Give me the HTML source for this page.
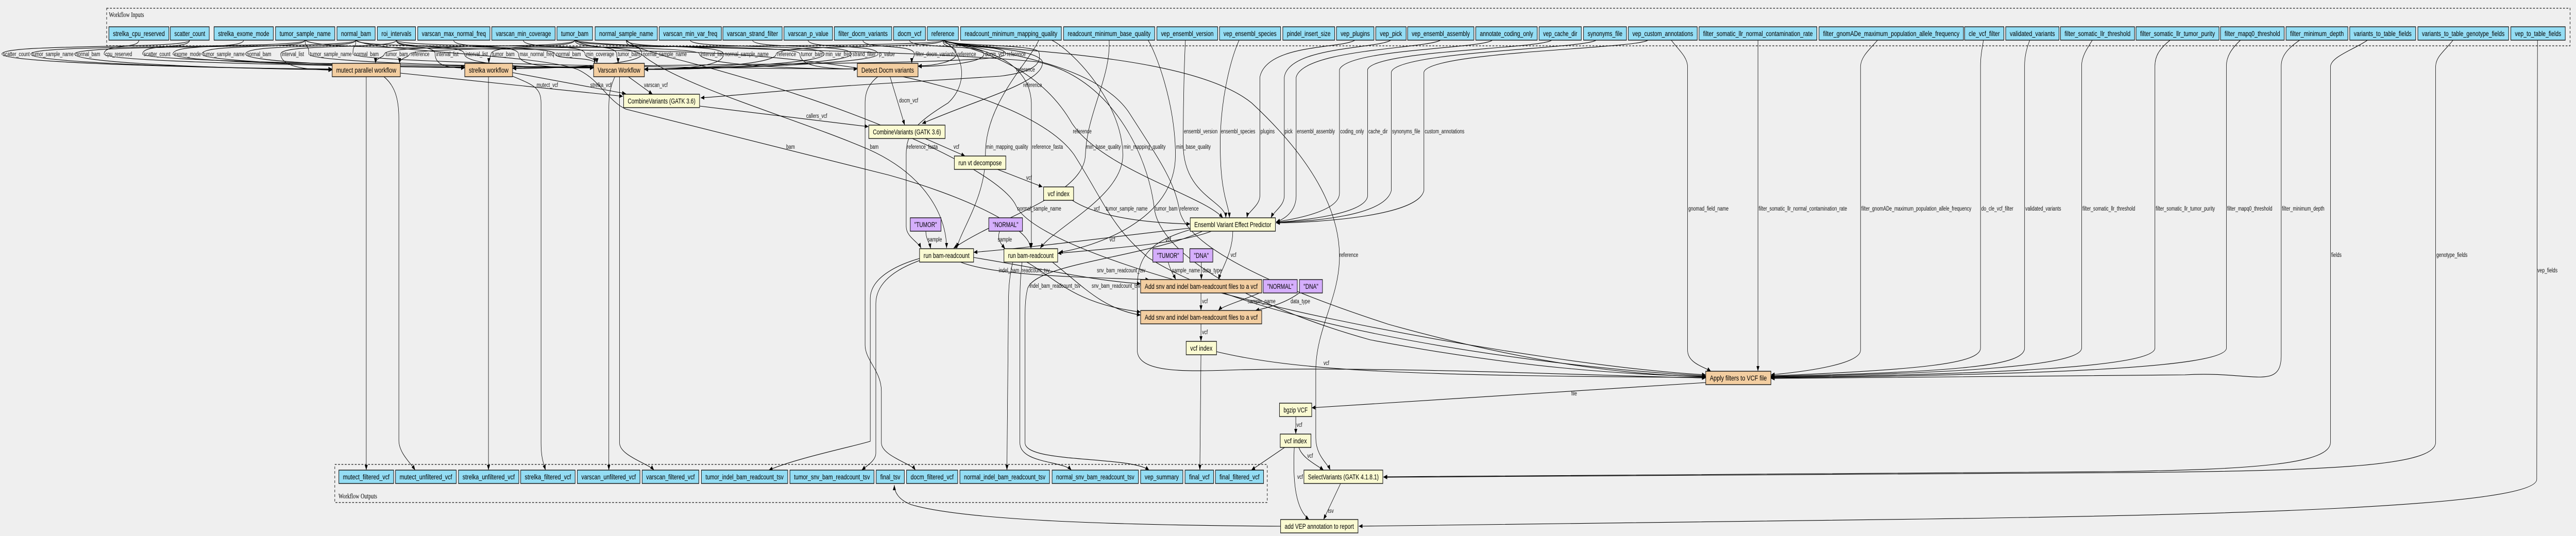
<!DOCTYPE html>
<html>
<head>
<meta charset="utf-8">
<style>
html,body{margin:0;padding:0;background:#efefef;width:100%;height:100%;overflow:hidden;}
svg{display:block;width:100vw;height:100vh;overflow:hidden;}
svg text{font-family:"Liberation Sans",Arial,sans-serif;fill:#000;}
.n text{font-size:14px;text-anchor:middle;}
.l text{font-size:12px;fill:#111;}
.bx text{font-family:"Liberation Serif","Times New Roman",serif;font-size:14px;}
rect.i{fill:#94DDF4;} rect.s{fill:#F3CEA1;} rect.y{fill:#FAFAD2;} rect.p{fill:#D5AEFC;}
.n rect{stroke:#111;stroke-width:1.4;}
.e path{fill:none;stroke:#000;stroke-width:1.1;marker-end:url(#a);}
.bx rect{fill:none;stroke:#333;stroke-width:1.5;stroke-dasharray:5,4;}
</style>
</head>
<body>
<svg viewBox="0 0 6956 1041" preserveAspectRatio="none" xmlns="http://www.w3.org/2000/svg">
<defs>
<marker id="a" viewBox="0 0 10 8" refX="10" refY="4" markerWidth="10" markerHeight="8" markerUnits="userSpaceOnUse" orient="auto"><path d="M0,0L10,4L0,8z" fill="#000"/></marker>
</defs>
<rect x="0" y="0" width="6956" height="1041" fill="#efefef"/>

<!-- cluster boxes -->
<g class="bx">
<rect x="288" y="16" width="6652" height="73"/>
<text x="294" y="33">Workflow Inputs</text>
<rect x="904" y="902" width="2518" height="74"/>
<text x="914" y="968">Workflow Outputs</text>
</g>

<!-- edges -->
<g class="e">
<path d="M512,78 C512,96 5,84 5,105 C5,124 697,134 897,134"/>
<path d="M824,78 C824,96 83,84 83,105 C83,124 697,134 897,134"/>
<path d="M961,78 C961,96 201,84 201,105 C201,124 697,135 897,135"/>
<path d="M375,78 C375,96 281,84 281,105 C281,122 1055,130 1255,130"/>
<path d="M512,78 C512,96 385,84 385,105 C385,122 1403,130 1603,130"/>
<path d="M658,78 C658,96 467,84 467,105 C467,122 1055,130 1255,130"/>
<path d="M824,78 C824,96 545,84 545,105 C545,122 1055,131 1255,131"/>
<path d="M961,78 C961,96 663,84 663,105 C663,122 1055,131 1255,131"/>
<path d="M1070,78 C1070,96 758,84 758,105 C758,124 800,136 897,136"/>
<path d="M824,78 C824,96 834,84 834,105 C834,122 1403,131 1603,131"/>
<path d="M961,78 C961,96 953,84 953,105 C953,124 2115,134 2315,134"/>
<path d="M1552,78 C1552,96 1038,84 1038,105 C1036,112 1014,112 1014,123"/>
<path d="M2546,78 C2546,96 1106,84 1106,105 C1104,112 1079,112 1079,123"/>
<path d="M1070,78 C1070,96 1175,84 1175,105 C1175,124 1200,132 1255,132"/>
<path d="M1070,78 C1070,96 1254,84 1254,105 C1254,124 1403,132 1603,132"/>
<path d="M1552,78 C1552,96 1326,84 1326,105 C1325,112 1320,112 1320,123"/>
<path d="M1225,78 C1225,96 1400,84 1400,105 C1400,124 1450,132 1603,132"/>
<path d="M961,78 C961,96 1499,84 1499,105 C1499,116 1606,110 1606,123"/>
<path d="M1413,78 C1413,96 1580,84 1580,105 C1580,114 1612,112 1612,123"/>
<path d="M1552,78 C1552,96 1665,84 1665,105 C1665,112 1669,112 1669,123"/>
<path d="M1691,78 C1691,96 1733,84 1733,105 C1733,124 1534,133 1384,133"/>
<path d="M1070,78 C1070,96 1889,84 1889,105 C1889,124 2115,134 2315,134"/>
<path d="M1691,78 C1691,96 1954,84 1954,105 C1954,124 1890,134 1740,134"/>
<path d="M2546,78 C2546,96 2096,84 2096,105 C2096,124 1890,134 1740,134"/>
<path d="M1552,78 C1552,96 2160,84 2160,105 C2160,124 2200,134 2315,134"/>
<path d="M1864,78 C1864,96 2226,84 2226,105 C2226,124 1890,134 1740,134"/>
<path d="M2032,78 C2032,96 2299,84 2299,105 C2299,124 1890,135 1740,135"/>
<path d="M2182,78 C2182,96 2371,84 2371,105 C2371,124 1890,135 1740,135"/>
<path d="M2330,78 C2330,96 2469,84 2469,105 C2469,112 2462,112 2462,123"/>
<path d="M2546,78 C2546,96 2582,84 2582,105 C2582,120 2520,128 2479,128"/>
<path d="M2456,78 C2456,96 2657,84 2657,105 C2657,122 2540,129 2479,129"/>
<path d="M2546,78 C2546,96 2716,84 2716,105 C2716,126 2000,122 1384,132"/>

<path d="M989,148 L989,913"/>
<path d="M1035,148 C1065,165 1077,190 1077,230 L1077,855 C1077,880 1110,900 1121,913"/>
<path d="M1081,142 C1300,160 1500,175 1682,187"/>
<path d="M1319,148 L1319,913"/>
<path d="M1384,148 C1440,165 1461,170 1461,200 L1461,860 C1461,890 1468,900 1473,913"/>
<path d="M1384,141 L1690,182"/>
<path d="M1661,148 C1650,165 1644,180 1644,210 L1644,913"/>
<path d="M1673,148 L1673,860 C1673,885 1750,900 1766,913"/>
<path d="M1695,148 L1762,183"/>
<path d="M2546,78 C2560,90 2780,85 2805,100 C2815,125 2790,140 2700,148 L2300,166 C2100,176 1950,188 1892,190"/>
<path d="M2546,78 C2570,92 2800,90 2815,120 C2820,160 2650,190 2490,240"/>
<path d="M1889,206 L2345,246"/>
<path d="M2403,148 L2443,243"/>
<path d="M2372,148 C2350,160 2336,175 2336,200 L2336,670 C2336,700 2380,720 2380,760 L2380,860 C2380,885 2460,900 2472,913"/>
<path d="M2495,268 L2606,303"/>
<path d="M2690,328 L2815,363"/>
<path d="M2893,388 C2950,415 3050,432 3214,435"/>
<path d="M3214,443 C3000,460 2800,480 2629,490"/>
<path d="M3275,448 C3200,470 3050,480 2856,492"/>
<path d="M3329,448 C3329,490 3300,520 3290,543"/>
<path d="M2500,448 C2500,465 2510,470 2513,483"/>
<path d="M2700,448 C2690,465 2705,475 2714,483"/>
<path d="M2629,500 C2800,520 2950,545 3080,551"/>
<path d="M2590,508 C2680,535 2900,538 3103,543"/>
<path d="M2770,508 C2850,540 2900,590 3080,606"/>
<path d="M2840,508 C2930,560 2980,600 3080,612"/>
<path d="M3154,508 C3160,525 3170,535 3175,543"/>
<path d="M3244,508 L3244,543"/>
<path d="M3404,568 C3350,585 3300,595 3290,603"/>
<path d="M3510,568 C3470,590 3420,598 3390,603"/>
<path d="M3243,568 L3243,603"/>
<path d="M3243,629 L3243,663"/>
<path d="M3243,689 L3240,913"/>
<path d="M3285,683 C3500,720 3800,730 4606,733"/>
<path d="M4606,743 L3542,792"/>
<path d="M3499,808 L3499,843"/>
<path d="M3471,868 L3379,913"/>
<path d="M3507,868 C3515,890 3560,905 3574,913"/>
<path d="M3495,868 C3490,940 3500,990 3535,1009"/>
<path d="M2546,78 C2620,100 3200,95 3380,200 C3560,320 3618,420 3617,500 C3616,580 3553,640 3553,720 L3553,850 C3553,885 3585,900 3592,913"/>
<path d="M3620,939 L3574,1009"/>
<path d="M3458,1022 C3000,1020 2600,1010 2460,980 C2425,970 2415,955 2415,942"/>
<path d="M6393,78 C6360,95 6293,110 6293,130 L6293,859 C6293,900 6100,912 5700,916 L3736,926"/>
<path d="M6624,78 C6600,100 6577,110 6577,130 L6577,859 C6577,905 6300,915 5700,918 L3736,927"/>
<path d="M6852,78 L6850,931 C6850,985 6000,1000 5200,1008 L3669,1022"/>

<path d="M961,78 C1000,100 1450,105 1560,135 C1620,155 1640,195 1690,212 L2400,340 C2600,380 2780,440 2783,482"/>
<path d="M1552,78 C1600,100 1700,85 1740,110 C1850,170 2150,230 2345,290 C2500,340 2556,420 2556,482"/>
<path d="M2546,78 C2600,100 2620,160 2560,200 C2470,240 2447,260 2447,300 L2447,440 C2447,460 2480,470 2487,482"/>
<path d="M2805,78 C2780,120 2660,200 2661,300 C2662,380 2600,440 2583,482"/>
<path d="M2995,78 C3000,150 2935,220 2931,300 C2928,380 2700,420 2575,482"/>
<path d="M2546,78 C2600,92 2780,100 2785,200 L2785,482"/>
<path d="M2840,78 C2900,100 3030,200 3032,300 C3034,380 2850,440 2809,482"/>
<path d="M3100,78 C3120,100 3174,200 3174,300 C3176,430 2950,480 2860,490"/>

<path d="M2546,78 C2620,95 2800,120 2895,240 C2980,330 3250,380 3302,423"/>
<path d="M3201,78 C3198,120 3195,200 3195,280 C3195,380 3310,390 3310,423"/>
<path d="M3346,78 C3320,120 3295,200 3295,280 C3295,380 3318,395 3320,423"/>
<path d="M3659,78 C3620,95 3420,85 3402,150 L3402,380 C3402,400 3370,410 3367,423"/>
<path d="M3756,78 C3720,95 3480,90 3468,150 L3468,380 C3468,400 3440,410 3432,423"/>
<path d="M3890,78 C3850,95 3520,95 3500,150 L3500,380 C3500,410 3470,425 3446,431"/>
<path d="M4030,78 C4000,95 3640,95 3617,135 L3617,375 C3617,410 3500,425 3446,431"/>
<path d="M4190,78 C4160,95 3710,98 3693,135 L3693,380 C3690,415 3520,428 3446,432"/>
<path d="M4310,78 C4280,95 3770,100 3757,140 L3757,370 C3740,420 3540,430 3446,432"/>
<path d="M4450,78 C4420,95 3860,100 3845,140 L3845,370 C3830,420 3560,432 3446,433"/>

<path d="M4513,78 C4530,95 4557,110 4557,130 L4557,680 C4557,705 4600,712 4620,721"/>
<path d="M4747,78 L4747,721"/>
<path d="M5070,78 C5050,95 5024,110 5024,130 L5024,680 C5024,705 4900,720 4782,728"/>
<path d="M5356,78 C5352,95 5348,110 5348,128 L5348,676 C5348,705 5200,718 4782,730"/>
<path d="M5481,78 C5472,95 5467,110 5467,128 L5467,676 C5467,710 5300,722 4782,731"/>
<path d="M5650,78 C5635,95 5621,110 5621,128 L5621,676 C5621,710 5300,725 4782,732"/>
<path d="M5860,78 C5830,95 5819,110 5819,128 L5819,676 C5819,712 5400,727 4782,733"/>
<path d="M6050,78 C6025,95 6012,110 6012,128 L6012,676 C6012,715 5500,728 4782,734"/>
<path d="M6210,78 C6175,95 6160,110 6160,128 L6160,690 C6160,760 6080,720 5900,728 L4782,735"/>
<path d="M1691,78 C1720,96 1760,100 1800,110 C2300,200 2700,330 2744,400 C2790,470 3200,560 3600,620 C4000,680 4400,720 4606,728"/>
<path d="M824,78 C850,96 1200,92 1800,100 C2400,110 2800,200 2900,300 C2980,390 3000,440 3100,500 C3400,640 4200,715 4606,730"/>
<path d="M1552,78 C1600,95 2400,92 2800,120 C3000,150 3100,300 3117,405 C3135,500 3400,600 3700,660 C4100,715 4400,728 4606,731"/>
<path d="M2546,78 C2600,95 2950,110 3050,220 C3130,310 3170,350 3184,405 C3200,480 3450,560 3750,630 C4150,710 4400,727 4606,732"/>
<path d="M3214,446 C3100,470 3071,500 3071,560 L3071,680 C3071,725 3200,722 3350,718 C3800,712 4300,730 4606,734"/>

<path d="M3250,448 C3100,500 2800,510 2775,560 C2768,580 2768,600 2768,620 L2768,860 C2768,900 3050,885 3103,913"/>
<path d="M2735,508 C2725,540 2723,560 2723,600 L2719,913"/>
<path d="M2760,508 C2755,540 2754,560 2754,600 L2754,860 C2754,900 2870,895 2893,913"/>
<path d="M2483,502 C2420,515 2350,540 2350,580 L2350,857 C2300,868 2150,890 2076,913"/>
<path d="M2483,506 C2430,520 2365,545 2365,590 L2365,880 C2365,895 2340,905 2327,913"/>
</g>

<!-- edge labels -->
<g class="l">
<text x="8" y="109">scatter_count</text>
<text x="86" y="109">tumor_sample_name</text>
<text x="204" y="109">normal_bam</text>
<text x="284" y="109">cpu_reserved</text>
<text x="388" y="109">scatter_count</text>
<text x="470" y="109">exome_mode</text>
<text x="548" y="109">tumor_sample_name</text>
<text x="666" y="109">normal_bam</text>
<text x="761" y="109">interval_list</text>
<text x="837" y="109">tumor_sample_name</text>
<text x="956" y="109">normal_bam</text>
<text x="1041" y="109">tumor_bam</text>
<text x="1109" y="109">reference</text>
<text x="1178" y="109">interval_list</text>
<text x="1257" y="109">interval_list</text>
<text x="1329" y="109">tumor_bam</text>
<text x="1403" y="109">max_normal_freq</text>
<text x="1502" y="109">normal_bam</text>
<text x="1583" y="109">min_coverage</text>
<text x="1668" y="109">tumor_bam</text>
<text x="1736" y="109">normal_sample_name</text>
<text x="1892" y="109">interval_list</text>
<text x="1957" y="109">normal_sample_name</text>
<text x="2099" y="109">reference</text>
<text x="2163" y="109">tumor_bam</text>
<text x="2229" y="109">min_var_freq</text>
<text x="2302" y="109">strand_filter</text>
<text x="2374" y="109">p_value</text>
<text x="2472" y="109">filter_docm_variants</text>
<text x="2585" y="109">reference</text>
<text x="2660" y="109">docm_vcf</text>
<text x="2719" y="109">reference</text>

<text x="2744" y="139">reference</text>
<text x="1449" y="169">mutect_vcf</text>
<text x="1594" y="169">strelka_vcf</text>
<text x="1739" y="169">varscan_vcf</text>
<text x="2763" y="169">reference</text>
<text x="2428" y="199">docm_vcf</text>
<text x="2177" y="229">callers_vcf</text>

<text x="2897" y="259">reference</text>
<text x="3197" y="259">ensembl_version</text>
<text x="3297" y="259">ensembl_species</text>
<text x="3404" y="259">plugins</text>
<text x="3469" y="259">pick</text>
<text x="3502" y="259">ensembl_assembly</text>
<text x="3619" y="259">coding_only</text>
<text x="3695" y="259">cache_dir</text>
<text x="3759" y="259">synonyms_file</text>
<text x="3847" y="259">custom_annotations</text>

<text x="2123" y="289">bam</text>
<text x="2349" y="289">bam</text>
<text x="2449" y="289">reference_fasta</text>
<text x="2575" y="289">vcf</text>
<text x="2663" y="289">min_mapping_quality</text>
<text x="2787" y="289">reference_fasta</text>
<text x="2933" y="289">min_base_quality</text>
<text x="3034" y="289">min_mapping_quality</text>
<text x="3176" y="289">min_base_quality</text>

<text x="2771" y="349">vcf</text>

<text x="2747" y="409">normal_sample_name</text>
<text x="2954" y="409">vcf</text>
<text x="2986" y="409">tumor_sample_name</text>
<text x="3119" y="409">tumor_bam</text>
<text x="3186" y="409">reference</text>
<text x="4559" y="409">gnomad_field_name</text>
<text x="4749" y="409">filter_somatic_llr_normal_contamination_rate</text>
<text x="5026" y="409">filter_gnomADe_maximum_population_allele_frequency</text>
<text x="5350" y="409">do_cle_vcf_filter</text>
<text x="5469" y="409">validated_variants</text>
<text x="5623" y="409">filter_somatic_llr_threshold</text>
<text x="5821" y="409">filter_somatic_llr_tumor_purity</text>
<text x="6014" y="409">filter_mapq0_threshold</text>
<text x="6162" y="409">filter_minimum_depth</text>

<text x="2505" y="469">sample</text>
<text x="2694" y="469">sample</text>
<text x="2996" y="469">vcf</text>
<text x="3147" y="469">vcf</text>

<text x="3617" y="499">reference</text>
<text x="3323" y="499">vcf</text>
<text x="6295" y="499">fields</text>
<text x="6579" y="499">genotype_fields</text>
<text x="6852" y="529">vep_fields</text>

<text x="2697" y="529">indel_bam_readcount_tsv</text>
<text x="2962" y="529">snv_bam_readcount_tsv</text>
<text x="3165" y="529">sample_name</text>
<text x="3247" y="529">data_type</text>
<text x="2780" y="559">indel_bam_readcount_tsv</text>
<text x="2948" y="559">snv_bam_readcount_tsv</text>
<text x="3246" y="589">vcf</text>
<text x="3369" y="589">sample_name</text>
<text x="3485" y="589">data_type</text>
<text x="3246" y="649">vcf</text>
<text x="3574" y="709">vcf</text>
<text x="4243" y="768">file</text>
<text x="3501" y="829">vcf</text>
<text x="3530" y="889">vcf</text>
<text x="3503" y="930">vcf</text>
<text x="3586" y="996">tsv</text>
</g>

<!-- nodes -->
<g class="n">
<rect class="i" x="294" y="52" width="162" height="26"/><text x="375" y="70" textLength="140" lengthAdjust="spacingAndGlyphs">strelka_cpu_reserved</text>
<rect class="i" x="460" y="52" width="105" height="26"/><text x="512.5" y="70" textLength="83" lengthAdjust="spacingAndGlyphs">scatter_count</text>
<rect class="i" x="578" y="52" width="160" height="26"/><text x="658" y="70" textLength="138" lengthAdjust="spacingAndGlyphs">strelka_exome_mode</text>
<rect class="i" x="744" y="52" width="160" height="26"/><text x="824" y="70" textLength="138" lengthAdjust="spacingAndGlyphs">tumor_sample_name</text>
<rect class="i" x="910" y="52" width="103" height="26"/><text x="961.5" y="70" textLength="81" lengthAdjust="spacingAndGlyphs">normal_bam</text>
<rect class="i" x="1019" y="52" width="103" height="26"/><text x="1070.5" y="70" textLength="81" lengthAdjust="spacingAndGlyphs">roi_intervals</text>
<rect class="i" x="1128" y="52" width="195" height="26"/><text x="1225.5" y="70" textLength="173" lengthAdjust="spacingAndGlyphs">varscan_max_normal_freq</text>
<rect class="i" x="1328" y="52" width="171" height="26"/><text x="1413.5" y="70" textLength="149" lengthAdjust="spacingAndGlyphs">varscan_min_coverage</text>
<rect class="i" x="1504" y="52" width="96" height="26"/><text x="1552" y="70" textLength="74" lengthAdjust="spacingAndGlyphs">tumor_bam</text>
<rect class="i" x="1607" y="52" width="168" height="26"/><text x="1691" y="70" textLength="146" lengthAdjust="spacingAndGlyphs">normal_sample_name</text>
<rect class="i" x="1780" y="52" width="168" height="26"/><text x="1864" y="70" textLength="146" lengthAdjust="spacingAndGlyphs">varscan_min_var_freq</text>
<rect class="i" x="1952" y="52" width="160" height="26"/><text x="2032" y="70" textLength="138" lengthAdjust="spacingAndGlyphs">varscan_strand_filter</text>
<rect class="i" x="2117" y="52" width="131" height="26"/><text x="2182.5" y="70" textLength="109" lengthAdjust="spacingAndGlyphs">varscan_p_value</text>
<rect class="i" x="2253" y="52" width="155" height="26"/><text x="2330.5" y="70" textLength="133" lengthAdjust="spacingAndGlyphs">filter_docm_variants</text>
<rect class="i" x="2413" y="52" width="86" height="26"/><text x="2456" y="70" textLength="64" lengthAdjust="spacingAndGlyphs">docm_vcf</text>
<rect class="i" x="2504" y="52" width="84" height="26"/><text x="2546" y="70" textLength="62" lengthAdjust="spacingAndGlyphs">reference</text>
<rect class="i" x="2594" y="52" width="272" height="26"/><text x="2730" y="70" textLength="250" lengthAdjust="spacingAndGlyphs">readcount_minimum_mapping_quality</text>
<rect class="i" x="2872" y="52" width="246" height="26"/><text x="2995" y="70" textLength="224" lengthAdjust="spacingAndGlyphs">readcount_minimum_base_quality</text>
<rect class="i" x="3124" y="52" width="164" height="26"/><text x="3206" y="70" textLength="142" lengthAdjust="spacingAndGlyphs">vep_ensembl_version</text>
<rect class="i" x="3293" y="52" width="165" height="26"/><text x="3375.5" y="70" textLength="143" lengthAdjust="spacingAndGlyphs">vep_ensembl_species</text>
<rect class="i" x="3464" y="52" width="140" height="26"/><text x="3534" y="70" textLength="118" lengthAdjust="spacingAndGlyphs">pindel_insert_size</text>
<rect class="i" x="3609" y="52" width="101" height="26"/><text x="3659.5" y="70" textLength="79" lengthAdjust="spacingAndGlyphs">vep_plugins</text>
<rect class="i" x="3715" y="52" width="82" height="26"/><text x="3756" y="70" textLength="60" lengthAdjust="spacingAndGlyphs">vep_pick</text>
<rect class="i" x="3801" y="52" width="179" height="26"/><text x="3890.5" y="70" textLength="157" lengthAdjust="spacingAndGlyphs">vep_ensembl_assembly</text>
<rect class="i" x="3985" y="52" width="166" height="26"/><text x="4068" y="70" textLength="144" lengthAdjust="spacingAndGlyphs">annotate_coding_only</text>
<rect class="i" x="4156" y="52" width="114" height="26"/><text x="4213" y="70" textLength="92" lengthAdjust="spacingAndGlyphs">vep_cache_dir</text>
<rect class="i" x="4276" y="52" width="116" height="26"/><text x="4334" y="70" textLength="94" lengthAdjust="spacingAndGlyphs">synonyms_file</text>
<rect class="i" x="4397" y="52" width="186" height="26"/><text x="4490" y="70" textLength="164" lengthAdjust="spacingAndGlyphs">vep_custom_annotations</text>
<rect class="i" x="4588" y="52" width="318" height="26"/><text x="4747" y="70" textLength="296" lengthAdjust="spacingAndGlyphs">filter_somatic_llr_normal_contamination_rate</text>
<rect class="i" x="4912" y="52" width="390" height="26"/><text x="5107" y="70" textLength="368" lengthAdjust="spacingAndGlyphs">filter_gnomADe_maximum_population_allele_frequency</text>
<rect class="i" x="5305" y="52" width="106" height="26"/><text x="5358" y="70" textLength="84" lengthAdjust="spacingAndGlyphs">cle_vcf_filter</text>
<rect class="i" x="5416" y="52" width="144" height="26"/><text x="5488" y="70" textLength="122" lengthAdjust="spacingAndGlyphs">validated_variants</text>
<rect class="i" x="5564" y="52" width="200" height="26"/><text x="5664" y="70" textLength="178" lengthAdjust="spacingAndGlyphs">filter_somatic_llr_threshold</text>
<rect class="i" x="5768" y="52" width="224" height="26"/><text x="5880" y="70" textLength="202" lengthAdjust="spacingAndGlyphs">filter_somatic_llr_tumor_purity</text>
<rect class="i" x="5996" y="52" width="172" height="26"/><text x="6082" y="70" textLength="150" lengthAdjust="spacingAndGlyphs">filter_mapq0_threshold</text>
<rect class="i" x="6173" y="52" width="167" height="26"/><text x="6256.5" y="70" textLength="145" lengthAdjust="spacingAndGlyphs">filter_minimum_depth</text>
<rect class="i" x="6345" y="52" width="178" height="26"/><text x="6434" y="70" textLength="156" lengthAdjust="spacingAndGlyphs">variants_to_table_fields</text>
<rect class="i" x="6529" y="52" width="245" height="26"/><text x="6651.5" y="70" textLength="223" lengthAdjust="spacingAndGlyphs">variants_to_table_genotype_fields</text>
<rect class="i" x="6780" y="52" width="147" height="26"/><text x="6853.5" y="70" textLength="125" lengthAdjust="spacingAndGlyphs">vep_to_table_fields</text>

<rect class="i" x="915" y="913" width="148" height="26"/><text x="989" y="931" textLength="126" lengthAdjust="spacingAndGlyphs">mutect_filtered_vcf</text>
<rect class="i" x="1068" y="913" width="164" height="26"/><text x="1150" y="931" textLength="142" lengthAdjust="spacingAndGlyphs">mutect_unfiltered_vcf</text>
<rect class="i" x="1238" y="913" width="163" height="26"/><text x="1319.5" y="931" textLength="141" lengthAdjust="spacingAndGlyphs">strelka_unfiltered_vcf</text>
<rect class="i" x="1406" y="913" width="147" height="26"/><text x="1479.5" y="931" textLength="125" lengthAdjust="spacingAndGlyphs">strelka_filtered_vcf</text>
<rect class="i" x="1559" y="913" width="169" height="26"/><text x="1643.5" y="931" textLength="147" lengthAdjust="spacingAndGlyphs">varscan_unfiltered_vcf</text>
<rect class="i" x="1734" y="913" width="153" height="26"/><text x="1810.5" y="931" textLength="131" lengthAdjust="spacingAndGlyphs">varscan_filtered_vcf</text>
<rect class="i" x="1894" y="913" width="233" height="26"/><text x="2010.5" y="931" textLength="211" lengthAdjust="spacingAndGlyphs">tumor_indel_bam_readcount_tsv</text>
<rect class="i" x="2133" y="913" width="227" height="26"/><text x="2246.5" y="931" textLength="205" lengthAdjust="spacingAndGlyphs">tumor_snv_bam_readcount_tsv</text>
<rect class="i" x="2366" y="913" width="76" height="26"/><text x="2404" y="931" textLength="54" lengthAdjust="spacingAndGlyphs">final_tsv</text>
<rect class="i" x="2448" y="913" width="138" height="26"/><text x="2517" y="931" textLength="116" lengthAdjust="spacingAndGlyphs">docm_filtered_vcf</text>
<rect class="i" x="2592" y="913" width="242" height="26"/><text x="2713" y="931" textLength="220" lengthAdjust="spacingAndGlyphs">normal_indel_bam_readcount_tsv</text>
<rect class="i" x="2841" y="913" width="233" height="26"/><text x="2957.5" y="931" textLength="211" lengthAdjust="spacingAndGlyphs">normal_snv_bam_readcount_tsv</text>
<rect class="i" x="3080" y="913" width="114" height="26"/><text x="3137" y="931" textLength="92" lengthAdjust="spacingAndGlyphs">vep_summary</text>
<rect class="i" x="3200" y="913" width="77" height="26"/><text x="3238.5" y="931" textLength="55" lengthAdjust="spacingAndGlyphs">final_vcf</text>
<rect class="i" x="3282" y="913" width="130" height="26"/><text x="3347" y="931" textLength="108" lengthAdjust="spacingAndGlyphs">final_filtered_vcf</text>

<rect class="s" x="897" y="123" width="184" height="26"/><text x="989" y="141" textLength="162" lengthAdjust="spacingAndGlyphs">mutect parallel workflow</text>
<rect class="s" x="1255" y="123" width="129" height="26"/><text x="1319.5" y="141" textLength="107" lengthAdjust="spacingAndGlyphs">strelka workflow</text>
<rect class="s" x="1603" y="123" width="137" height="26"/><text x="1671.5" y="141" textLength="115" lengthAdjust="spacingAndGlyphs">Varscan Workflow</text>
<rect class="s" x="2315" y="123" width="164" height="26"/><text x="2397" y="141" textLength="142" lengthAdjust="spacingAndGlyphs">Detect Docm variants</text>
<rect class="y" x="1684" y="183" width="205" height="26"/><text x="1786.5" y="201" textLength="183" lengthAdjust="spacingAndGlyphs">CombineVariants (GATK 3.6)</text>
<rect class="y" x="2346" y="243" width="206" height="26"/><text x="2449" y="261" textLength="184" lengthAdjust="spacingAndGlyphs">CombineVariants (GATK 3.6)</text>
<rect class="y" x="2577" y="303" width="139" height="26"/><text x="2646.5" y="321" textLength="117" lengthAdjust="spacingAndGlyphs">run vt decompose</text>
<rect class="y" x="2818" y="363" width="81" height="26"/><text x="2858.5" y="381" textLength="59" lengthAdjust="spacingAndGlyphs">vcf index</text>
<rect class="y" x="3214" y="423" width="230" height="26"/><text x="3329" y="441" textLength="208" lengthAdjust="spacingAndGlyphs">Ensembl Variant Effect Predictor</text>
<rect class="p" x="2458" y="423" width="83" height="26"/><text x="2499.5" y="441" textLength="61" lengthAdjust="spacingAndGlyphs">&quot;TUMOR&quot;</text>
<rect class="p" x="2670" y="423" width="91" height="26"/><text x="2715.5" y="441" textLength="69" lengthAdjust="spacingAndGlyphs">&quot;NORMAL&quot;</text>
<rect class="y" x="2483" y="483" width="146" height="26"/><text x="2556" y="501" textLength="124" lengthAdjust="spacingAndGlyphs">run bam-readcount</text>
<rect class="y" x="2711" y="483" width="145" height="26"/><text x="2783.5" y="501" textLength="123" lengthAdjust="spacingAndGlyphs">run bam-readcount</text>
<rect class="p" x="3113" y="483" width="82" height="26"/><text x="3154" y="501" textLength="60" lengthAdjust="spacingAndGlyphs">&quot;TUMOR&quot;</text>
<rect class="p" x="3213" y="483" width="62" height="26"/><text x="3244" y="501" textLength="40" lengthAdjust="spacingAndGlyphs">&quot;DNA&quot;</text>
<rect class="s" x="3080" y="543" width="327" height="26"/><text x="3243.5" y="561" textLength="305" lengthAdjust="spacingAndGlyphs">Add snv and indel bam-readcount files to a vcf</text>
<rect class="p" x="3411" y="543" width="92" height="26"/><text x="3457" y="561" textLength="70" lengthAdjust="spacingAndGlyphs">&quot;NORMAL&quot;</text>
<rect class="p" x="3509" y="543" width="62" height="26"/><text x="3540" y="561" textLength="40" lengthAdjust="spacingAndGlyphs">&quot;DNA&quot;</text>
<rect class="s" x="3080" y="603" width="327" height="26"/><text x="3243.5" y="621" textLength="305" lengthAdjust="spacingAndGlyphs">Add snv and indel bam-readcount files to a vcf</text>
<rect class="y" x="3203" y="663" width="82" height="26"/><text x="3244" y="681" textLength="60" lengthAdjust="spacingAndGlyphs">vcf index</text>
<rect class="s" x="4606" y="721" width="176" height="26"/><text x="4694" y="739" textLength="154" lengthAdjust="spacingAndGlyphs">Apply filters to VCF file</text>
<rect class="y" x="3455" y="783" width="87" height="26"/><text x="3498.5" y="801" textLength="65" lengthAdjust="spacingAndGlyphs">bgzip VCF</text>
<rect class="y" x="3457" y="843" width="83" height="26"/><text x="3498.5" y="861" textLength="61" lengthAdjust="spacingAndGlyphs">vcf index</text>
<rect class="y" x="3521" y="913" width="213" height="26"/><text x="3627.5" y="931" textLength="191" lengthAdjust="spacingAndGlyphs">SelectVariants (GATK 4.1.8.1)</text>
<rect class="y" x="3458" y="1009" width="209" height="26"/><text x="3562.5" y="1027" textLength="187" lengthAdjust="spacingAndGlyphs">add VEP annotation to report</text>
</g>
</svg>
</body>
</html>
